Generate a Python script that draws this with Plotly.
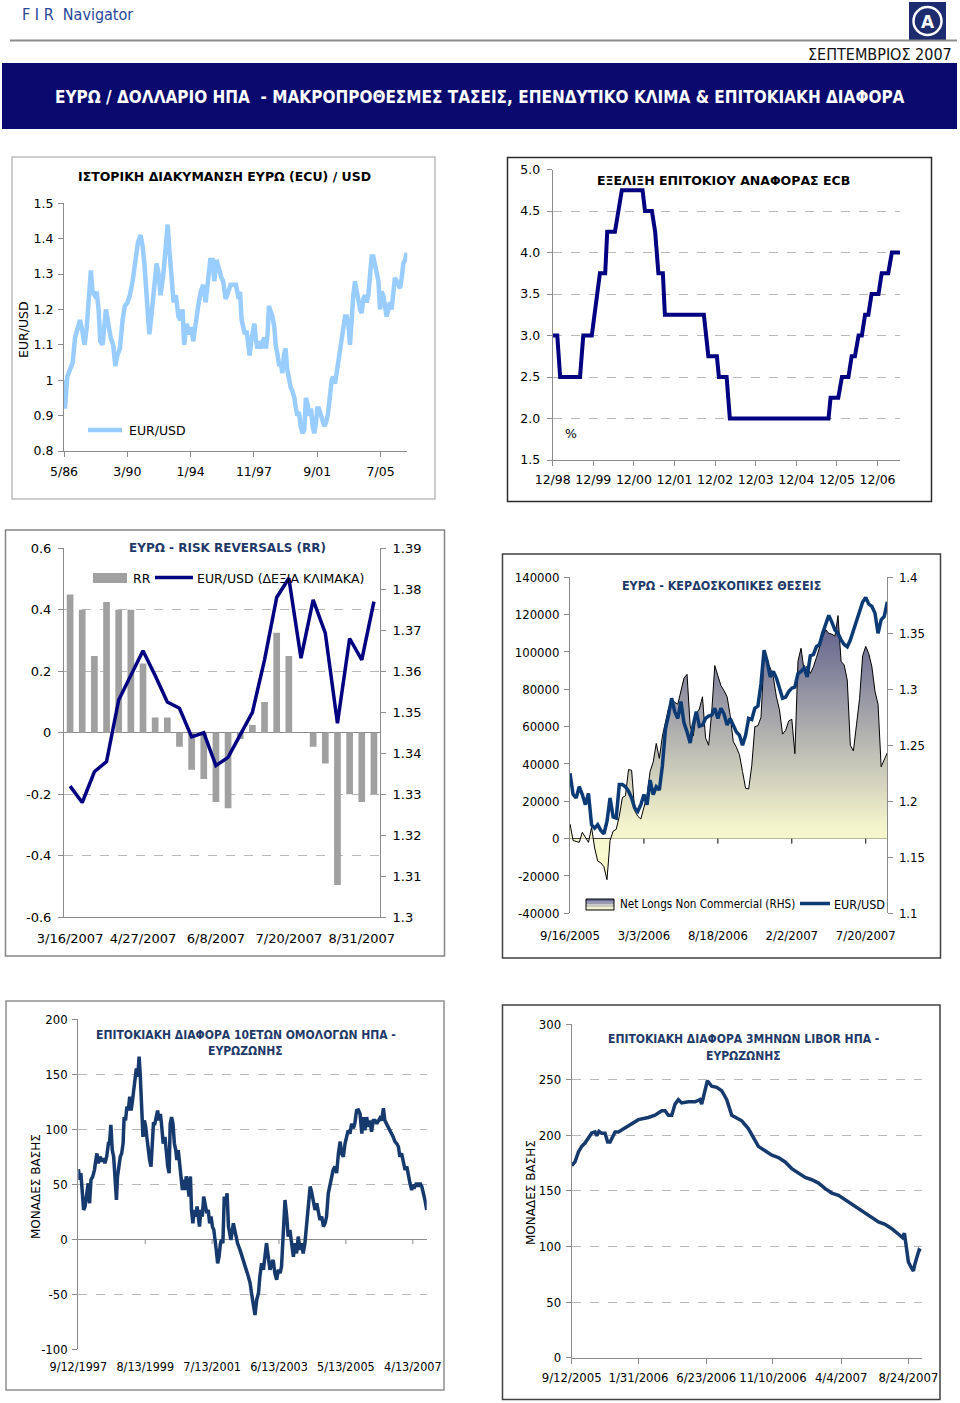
import plotly.graph_objects as go
import pandas as pd

# ======================= DATA =======================
# Panel 1: historical EUR(ECU)/USD  (x in decimal years)
hist_year = [
    1986.33, 1986.39, 1986.53, 1986.70, 1986.86, 1987.00, 1987.14, 1987.30, 1987.44, 1987.58,
    1987.71, 1987.82, 1987.96, 1988.06, 1988.19, 1988.31, 1988.43, 1988.53, 1988.67, 1988.87,
    1989.01, 1989.16, 1989.31, 1989.44, 1989.56, 1989.72, 1989.88, 1990.02, 1990.18, 1990.32,
    1990.49, 1990.65, 1990.81, 1990.97, 1991.09, 1991.20, 1991.30, 1991.40, 1991.50, 1991.62,
    1991.78, 1991.94, 1992.06, 1992.18, 1992.35, 1992.48, 1992.61, 1992.71, 1992.83, 1992.97,
    1993.11, 1993.26, 1993.39, 1993.51, 1993.61, 1993.76, 1993.90, 1994.04, 1994.16, 1994.32,
    1994.46, 1994.61, 1994.76, 1994.91, 1995.05, 1995.19, 1995.33, 1995.43, 1995.57, 1995.71,
    1995.86, 1995.97, 1996.12, 1996.28, 1996.42, 1996.58, 1996.74, 1996.91,
    1996.99, 1997.09, 1997.19, 1997.29, 1997.39, 1997.49, 1997.57, 1997.70, 1997.80, 1997.86,
    1997.94, 1998.04, 1998.14, 1998.26, 1998.36, 1998.46, 1998.56, 1998.66, 1998.74, 1998.83,
    1998.95, 1999.07, 1999.15, 1999.27, 1999.37, 1999.47, 1999.55, 1999.65, 1999.75, 1999.85,
    1999.96, 2000.06, 2000.16, 2000.28, 2000.38, 2000.46, 2000.56, 2000.66, 2000.78, 2000.88,
    2000.98, 2001.09, 2001.17, 2001.29, 2001.39, 2001.49, 2001.59, 2001.67, 2001.77, 2001.89,
    2001.99, 2002.09, 2002.20, 2002.30, 2002.40, 2002.54, 2002.64, 2002.74, 2002.84, 2002.94,
    2003.04, 2003.14, 2003.25, 2003.35, 2003.45, 2003.55, 2003.65, 2003.75, 2003.85, 2003.95,
    2004.05, 2004.15, 2004.26, 2004.36, 2004.46, 2004.56, 2004.66, 2004.76, 2004.86, 2004.96,
    2005.06, 2005.16, 2005.26, 2005.37, 2005.47, 2005.57, 2005.67, 2005.77, 2005.87, 2005.97,
    2006.07, 2006.17, 2006.27, 2006.37, 2006.47, 2006.58, 2006.68, 2006.78, 2006.88, 2006.98,
    2007.08]
hist_eurusd = [
    1.00, 0.92, 1.01, 1.03, 1.05, 1.12, 1.15, 1.17, 1.14, 1.10,
    1.15, 1.22, 1.31, 1.25, 1.24, 1.25, 1.20, 1.11, 1.10, 1.20,
    1.16, 1.12, 1.10, 1.04, 1.07, 1.09, 1.17, 1.21, 1.22, 1.24,
    1.28, 1.34, 1.39, 1.41, 1.38, 1.33, 1.26, 1.19, 1.13, 1.18,
    1.25, 1.33, 1.30, 1.24, 1.30, 1.37, 1.44, 1.37, 1.28, 1.22,
    1.24, 1.18, 1.17, 1.20, 1.10, 1.16, 1.13, 1.15, 1.11, 1.17,
    1.21, 1.25, 1.27, 1.22, 1.27, 1.34, 1.34, 1.28, 1.34, 1.31,
    1.29, 1.28, 1.23, 1.25, 1.27, 1.27, 1.27, 1.23,
    1.25, 1.17, 1.15, 1.13, 1.14, 1.08, 1.07, 1.12, 1.15, 1.16,
    1.12, 1.09, 1.11, 1.09, 1.11, 1.12, 1.09, 1.13, 1.21, 1.20,
    1.18, 1.15, 1.10, 1.07, 1.04, 1.05, 1.02, 1.07, 1.09, 1.03,
    1.00, 0.98, 0.97, 0.95, 0.92, 0.90, 0.91, 0.87, 0.85, 0.86,
    0.95, 0.93, 0.90, 0.92, 0.87, 0.85, 0.88, 0.92, 0.92, 0.90,
    0.88, 0.87, 0.88, 0.90, 0.94, 1.00, 1.01, 0.99, 1.02, 1.05,
    1.08, 1.10, 1.13, 1.18, 1.18, 1.16, 1.10, 1.18, 1.24, 1.28,
    1.25, 1.22, 1.20, 1.19, 1.23, 1.24, 1.22, 1.24, 1.30, 1.35,
    1.35, 1.33, 1.30, 1.28, 1.20, 1.25, 1.24, 1.21, 1.18, 1.20,
    1.22, 1.20, 1.24, 1.29, 1.28, 1.27, 1.26, 1.29, 1.33, 1.34,
    1.36]
hist_tick_year = [1986.333, 1990.167, 1994.0, 1997.833, 2001.667, 2005.5]
hist_tick_text = ["5/86", "3/90", "1/94", "11/97", "9/01", "7/05"]
hist_y_ticks = [0.8, 0.9, 1.0, 1.1, 1.2, 1.3, 1.4, 1.5]
hist_y_text = ["0.8", "0.9", "1", "1.1", "1.2", "1.3", "1.4", "1.5"]

# Panel 2: ECB refi rate
ecb_year = [1998.92, 1999.03, 1999.10, 1999.59, 1999.67, 1999.88, 2000.08, 2000.21, 2000.26, 2000.45,
            2000.62, 2001.13, 2001.19, 2001.36, 2001.44, 2001.52, 2001.63, 2001.68, 2002.64, 2002.75,
            2002.96, 2003.01, 2003.20, 2003.28, 2005.71, 2005.76, 2005.95, 2006.04, 2006.20, 2006.28,
            2006.36, 2006.45, 2006.53, 2006.61, 2006.69, 2006.77, 2006.94, 2007.02, 2007.18, 2007.27,
            2007.47]
ecb_rate = [3.0, 3.0, 2.5, 2.5, 3.0, 3.0, 3.75, 3.75, 4.25, 4.25,
            4.75, 4.75, 4.5, 4.5, 4.25, 3.75, 3.75, 3.25, 3.25, 2.75,
            2.75, 2.5, 2.5, 2.0, 2.0, 2.25, 2.25, 2.5, 2.5, 2.75,
            2.75, 3.0, 3.0, 3.25, 3.25, 3.5, 3.5, 3.75, 3.75, 4.0,
            4.0]
ecb_tick_year = [1998.917, 1999.917, 2000.917, 2001.917, 2002.917, 2003.917, 2004.917, 2005.917, 2006.917]
ecb_tick_text = ["12/98", "12/99", "12/00", "12/01", "12/02", "12/03", "12/04", "12/05", "12/06"]
ecb_y_ticks = [1.5, 2.0, 2.5, 3.0, 3.5, 4.0, 4.5, 5.0]

# Panel 3: risk reversals
rr_dates = ["3/16/2007", "3/23/2007", "3/30/2007", "4/6/2007", "4/13/2007", "4/20/2007", "4/27/2007",
            "5/4/2007", "5/11/2007", "5/18/2007", "5/25/2007", "6/1/2007", "6/8/2007", "6/15/2007",
            "6/22/2007", "6/29/2007", "7/6/2007", "7/13/2007", "7/20/2007", "7/27/2007", "8/3/2007",
            "8/10/2007", "8/17/2007", "8/24/2007", "8/31/2007", "9/7/2007"]
rr_values = [0.45, 0.40, 0.25, 0.425, 0.40, 0.40, 0.225, 0.05, 0.05, -0.045, -0.12, -0.15, -0.225,
             -0.245, -0.02, 0.025, 0.10, 0.325, 0.25, 0.0, -0.045, -0.10, -0.495, -0.20, -0.225, -0.20]
rr_eurusd = [1.332, 1.328, 1.3355, 1.338, 1.353, 1.359, 1.365, 1.359, 1.3525, 1.351, 1.344, 1.345,
             1.337, 1.339, 1.3445, 1.350, 1.3628, 1.378, 1.3827, 1.3632, 1.3774, 1.3693, 1.3473,
             1.368, 1.3628, 1.377]
rr_tick_dates = ["3/16/2007", "4/27/2007", "6/8/2007", "7/20/2007", "8/31/2007"]
rr_left_ticks = [-0.6, -0.4, -0.2, 0, 0.2, 0.4, 0.6]
rr_left_text = ["-0.6", "-0.4", "-0.2", "0", "0.2", "0.4", "0.6"]
rr_right_ticks = [1.30, 1.31, 1.32, 1.33, 1.34, 1.35, 1.36, 1.37, 1.38, 1.39]
rr_right_text = ["1.3", "1.31", "1.32", "1.33", "1.34", "1.35", "1.36", "1.37", "1.38", "1.39"]

# Panel 4: speculative positions (weekly from 9/16/2005)
cot_start = "2005-09-16"
net_longs = [
    7900, -1000, -1500, -2000, 3400, 700, -2000, 6000, -5000, -12000,
    -13000, -15000, -22000, -1000, 4000, 5000, 12000, 22000, 23000, 37000,
    36600, 15000, 12000, 10500, 17000, 23000, 36000, 41000, 51000, 43000,
    55000, 63000, 70000, 74800, 73000, 72000, 79000, 86000, 88000, 60500,
    55000, 67000, 69500, 76000, 54000, 50000, 67700, 92700, 87300, 82000,
    79300, 76000, 66000, 52000, 49000, 45000, 36000, 27000, 26600, 39000,
    60000, 60500, 65000, 98000, 95000, 91500, 86500, 76000, 69000, 56000,
    58000, 63000, 64000, 45500, 95000, 102000, 90000, 92500, 88500, 92000,
    97000, 102500, 108000, 112000, 110000, 109500, 108500, 119500, 95000, 93000,
    85000, 50000, 47000, 61000, 75000, 98000, 103000, 99000, 92000, 79000,
    72000, 38500, 42000, 46000]
cot_eurusd = [
    1.225, 1.206, 1.203, 1.213, 1.206, 1.197, 1.207, 1.179, 1.176, 1.179,
    1.174, 1.171, 1.182, 1.203, 1.186, 1.185, 1.215, 1.215, 1.213, 1.209,
    1.203, 1.194, 1.191, 1.197, 1.206, 1.197, 1.219, 1.206, 1.213, 1.210,
    1.232, 1.265, 1.277, 1.292, 1.280, 1.274, 1.289, 1.270, 1.262, 1.252,
    1.268, 1.280, 1.267, 1.268, 1.274, 1.276, 1.277, 1.283, 1.274, 1.283,
    1.278, 1.268, 1.274, 1.268, 1.262, 1.259, 1.250, 1.259, 1.274, 1.273,
    1.283, 1.285, 1.305, 1.335, 1.325, 1.311, 1.316, 1.310, 1.300, 1.292,
    1.293, 1.298, 1.301, 1.302, 1.314, 1.316, 1.319, 1.311, 1.330, 1.331,
    1.338, 1.340, 1.350, 1.358, 1.366, 1.360, 1.353, 1.350, 1.344, 1.340,
    1.338, 1.344, 1.352, 1.360, 1.370, 1.378, 1.382, 1.376, 1.374, 1.368,
    1.350, 1.362, 1.365, 1.378]
cot_tick_dates = ["2005-09-16", "2006-03-03", "2006-08-18", "2007-02-02", "2007-07-20"]
cot_tick_text = ["9/16/2005", "3/3/2006", "8/18/2006", "2/2/2007", "7/20/2007"]
cot_left_ticks = [-40000, -20000, 0, 20000, 40000, 60000, 80000, 100000, 120000, 140000]
cot_right_ticks = [1.10, 1.15, 1.20, 1.25, 1.30, 1.35, 1.40]
cot_right_text = ["1.1", "1.15", "1.2", "1.25", "1.3", "1.35", "1.4"]

# Panel 5: 10y US - Euro area spread (bp)
spread10_year = [
    1997.70, 1997.74, 1997.77, 1997.81, 1997.85, 1997.89, 1997.94, 1997.98, 1998.02, 1998.06,
    1998.11, 1998.16, 1998.20, 1998.23, 1998.27, 1998.32, 1998.37, 1998.41, 1998.46, 1998.51,
    1998.56, 1998.59, 1998.63, 1998.67, 1998.71, 1998.75, 1998.79, 1998.82, 1998.86, 1998.90,
    1998.94, 1998.98, 1999.01, 1999.05, 1999.09, 1999.13, 1999.17, 1999.21, 1999.24, 1999.28,
    1999.32, 1999.36, 1999.40, 1999.44, 1999.47, 1999.51, 1999.55, 1999.59, 1999.63, 1999.66,
    1999.70, 1999.74, 1999.78, 1999.82, 1999.85, 1999.89, 1999.93, 1999.97, 2000.01, 2000.05,
    2000.08, 2000.13, 2000.18, 2000.22, 2000.26, 2000.30, 2000.33, 2000.37, 2000.41, 2000.45,
    2000.49, 2000.52, 2000.56, 2000.60, 2000.64, 2000.68, 2000.72, 2000.75, 2000.79, 2000.83,
    2000.87, 2000.91, 2000.94, 2000.98, 2001.02, 2001.06, 2001.10, 2001.14, 2001.17, 2001.21,
    2001.25, 2001.29, 2001.33, 2001.38, 2001.42, 2001.46, 2001.50, 2001.54, 2001.58, 2001.61,
    2001.65, 2001.69, 2001.73, 2001.77, 2001.80, 2001.84, 2001.88, 2001.92, 2001.96,
    2002.00, 2002.07, 2002.14, 2002.21, 2002.26, 2002.33, 2002.40, 2002.45, 2002.51, 2002.57,
    2002.62, 2002.66, 2002.71, 2002.76, 2002.81, 2002.86, 2002.90, 2002.95, 2003.00, 2003.05,
    2003.09, 2003.14, 2003.19, 2003.24, 2003.28, 2003.33, 2003.38, 2003.43, 2003.48, 2003.52,
    2003.57, 2003.62, 2003.67, 2003.71, 2003.76, 2003.81, 2003.86, 2003.91, 2003.95, 2004.00,
    2004.05, 2004.10, 2004.14, 2004.19, 2004.24, 2004.29, 2004.34, 2004.38, 2004.43, 2004.48,
    2004.53, 2004.57, 2004.62, 2004.67, 2004.72, 2004.77, 2004.81, 2004.86, 2004.91, 2004.96,
    2005.00, 2005.05, 2005.10, 2005.15, 2005.20, 2005.24, 2005.29, 2005.34, 2005.39, 2005.43,
    2005.48, 2005.53, 2005.58, 2005.62, 2005.67, 2005.72, 2005.77, 2005.82, 2005.86, 2005.91,
    2005.96, 2006.01, 2006.05, 2006.10, 2006.15, 2006.20, 2006.25, 2006.29, 2006.34, 2006.39,
    2006.44, 2006.48, 2006.53, 2006.58, 2006.63, 2006.68, 2006.72, 2006.77, 2006.82, 2006.87,
    2006.91, 2006.96, 2007.01, 2007.06, 2007.11, 2007.15, 2007.20, 2007.25, 2007.30, 2007.34,
    2007.39, 2007.44, 2007.49, 2007.54, 2007.58, 2007.63, 2007.68]
spread10 = [
    63.5, 54, 60, 45, 26.5, 29.6, 44.7, 50.8, 32.6, 53.8,
    56.8, 63, 72, 78, 69, 75, 70.5, 73.5, 69, 75,
    87, 87, 104, 81, 75, 50.8, 35.6, 56.8, 69, 75,
    78, 87, 111, 108, 120.5, 117, 129.6, 117, 123.5, 135.6,
    147.8, 155.3, 147.8, 166, 150.8, 117, 93, 108, 102, 93,
    81, 72, 66, 87, 105, 105, 111, 117, 108, 114,
    105, 87, 93, 78, 66, 60, 105, 111, 105, 87,
    81, 72, 81, 69, 57, 44.7, 54, 44.7, 57, 51,
    38.7, 57, 26.5, 14.4, 26.5, 20.5, 29.6, 20.5, 11.4, 26.5,
    20.5, 38.7, 32.6, 23.5, 26.5, 14.4, 20.5, 11.4, 8.4, 2.3,
    -9.8, -22, -16, -3.8, -0.7, -3.8, 38.7, 32.6, 41.7,
    11.4, -0.7, 14.4, 2.3, -3.8, -9.8, -16, -22, -28, -34,
    -40, -49, -58, -69, -55, -49, -34, -22, -28, -13,
    -3.8, -16, -28, -22, -19, -31, -37, -28, -31, -25,
    11.4, 35.6, 20.5, 2.3, 8.4, -3.8, -16, -3.8, -13, 2.3,
    -9.8, -3.8, -13, -3.8, 14.4, 32.6, 47.8, 43.2, 35.6, 26.5,
    32.6, 23.5, 17.4, 20.5, 11.4, 14.4, 20.5, 41.7, 50.8, 56.8,
    63, 66, 60, 78, 88.7, 78, 75, 87, 93, 99,
    96, 105, 100.8, 105, 117, 117.5, 114, 96, 111, 99,
    111, 102, 108, 97.8, 108, 108, 105, 108, 110, 108,
    119, 108, 105, 100.8, 99, 96, 93, 88.7, 87, 84,
    75, 78, 69, 63, 66, 57, 51, 44.7, 49.3, 47.8,
    51, 47.8, 51, 47.8, 43.2, 35.6, 26.5]
spread10_tick_year = [1997.697, 1999.616, 2001.532, 2003.449, 2005.364, 2007.282]
spread10_tick_text = ["9/12/1997", "8/13/1999", "7/13/2001", "6/13/2003", "5/13/2005", "4/13/2007"]
spread10_y_ticks = [-100, -50, 0, 50, 100, 150, 200]

# Panel 6: 3m LIBOR US - Euro area spread (bp)
libor_year = [
    2005.696, 2005.715, 2005.735, 2005.754, 2005.773, 2005.792, 2005.812, 2005.831, 2005.841, 2005.854,
    2005.870, 2005.889, 2005.904, 2005.918, 2005.931, 2005.947, 2005.966, 2005.985, 2006.005, 2006.043,
    2006.082, 2006.139, 2006.178, 2006.217, 2006.236, 2006.255, 2006.275, 2006.294, 2006.313, 2006.332,
    2006.371, 2006.410, 2006.438, 2006.448, 2006.467, 2006.481, 2006.506, 2006.535, 2006.564, 2006.593,
    2006.622, 2006.660, 2006.680, 2006.718, 2006.747, 2006.776, 2006.815, 2006.854, 2006.892, 2006.931,
    2006.969, 2007.008, 2007.047, 2007.085, 2007.124, 2007.163, 2007.201, 2007.240, 2007.279, 2007.316,
    2007.355, 2007.393, 2007.432, 2007.471, 2007.509, 2007.548, 2007.587, 2007.610, 2007.621, 2007.631,
    2007.644, 2007.664, 2007.673, 2007.683, 2007.698, 2007.706, 2007.717]
libor_spread = [
    172.6, 176, 185, 190, 193, 197, 202, 203, 199.6, 203.5,
    201.7, 201.7, 194, 194, 198.7, 203, 203, 204.7, 207, 210,
    214, 216, 218, 222, 222, 218, 218, 228, 232, 229,
    230, 230, 232, 228, 240, 249, 244, 243, 240, 232,
    218, 215, 213, 206, 198, 190, 186, 182, 180, 176,
    170, 166, 162, 160, 157, 152, 148, 146, 142, 138,
    134, 130, 126, 122, 120, 116, 111, 108, 112, 100,
    86, 80, 78, 85, 95, 97, 96]
libor_tick_year = [2005.696, 2006.082, 2006.474, 2006.860, 2007.255, 2007.644]
libor_tick_text = ["9/12/2005", "1/31/2006", "6/23/2006", "11/10/2006", "4/4/2007", "8/24/2007"]
libor_y_ticks = [0, 50, 100, 150, 200, 250, 300]

# ======================= LAYOUT HELPERS =======================
W, H = 960, 1403
def fx(x): return x / W
def fy(y): return 1 - y / H

FONT_V = "DejaVu Sans, Verdana, sans-serif"
FONT_C = "DejaVu Sans Condensed, Liberation Sans Narrow, Liberation Sans, sans-serif"
AX = "#8C8C8C"
GRID = "#B8B8B8"
NAVY = "#000080"
TITLE_BLUE = "#1F3A68"

tf_p1 = dict(family=FONT_V, size=12.5, color="black")
tf_p3 = dict(family=FONT_V, size=13, color="black")
tf_c = dict(family=FONT_C, size=13, color="black")

cot_dates = pd.date_range(cot_start, periods=len(net_longs), freq="7D")

fig = go.Figure()

# Panel 1
fig.add_trace(go.Scatter(x=hist_year, y=hist_eurusd, mode="lines",
                         line=dict(color="#99CCFF", width=4.5), xaxis="x", yaxis="y"))
# Panel 2
fig.add_trace(go.Scatter(x=ecb_year, y=ecb_rate, mode="lines",
                         line=dict(color=NAVY, width=4), xaxis="x2", yaxis="y2"))
# Panel 3
fig.add_trace(go.Bar(x=rr_dates, y=rr_values, marker=dict(color="#A0A0A0", line=dict(width=0)),
                     width=0.55, xaxis="x3", yaxis="y3"))
fig.add_trace(go.Scatter(x=rr_dates, y=rr_eurusd, mode="lines",
                         line=dict(color=NAVY, width=3.5), xaxis="x3", yaxis="y7"))
# Panel 4
fig.add_trace(go.Scatter(x=cot_dates, y=net_longs, mode="lines", fill="tozeroy",
                         fillgradient=dict(type="vertical",
                                           colorscale=[[0, "#FFFFD2"], [0.2, "#F4F4CC"], [1, "#5C5C8C"]]),
                         line=dict(color="black", width=1), xaxis="x4", yaxis="y4"))
fig.add_trace(go.Scatter(x=cot_dates, y=cot_eurusd, mode="lines",
                         line=dict(color="#0B3A75", width=3.5), xaxis="x4", yaxis="y8"))
# Panel 5
fig.add_trace(go.Scatter(x=spread10_year, y=spread10, mode="lines",
                         line=dict(color="#163A6E", width=3.5), xaxis="x5", yaxis="y5"))
# Panel 6
fig.add_trace(go.Scatter(x=libor_year, y=libor_spread, mode="lines",
                         line=dict(color="#163A6E", width=3.5), xaxis="x6", yaxis="y6"))


def axis(**kw):
    d = dict(showgrid=False, zeroline=False, showline=True, linecolor=AX, linewidth=1,
             ticks="outside", ticklen=5, tickcolor=AX, tickwidth=1, fixedrange=True,
             tickmode="array", automargin=False, tickangle=0)
    d.update(kw)
    return d

layout = dict(
    width=W, height=H, autosize=False, margin=dict(l=0, r=0, t=0, b=0, pad=0, autoexpand=False),
    paper_bgcolor="white", plot_bgcolor="rgba(0,0,0,0)", showlegend=False,
    font=dict(family=FONT_V, size=12, color="black"),
    # ---- Panel 1
    xaxis=axis(domain=[fx(64), fx(407.3)], anchor="y", range=[1986.333, 2007.12],
               tickvals=hist_tick_year, ticktext=hist_tick_text, tickfont=tf_p1, ticklabelstandoff=4),
    yaxis=axis(domain=[fy(451), fy(203.3)], anchor="x", range=[0.8, 1.5],
               tickvals=hist_y_ticks, ticktext=hist_y_text, tickfont=tf_p1, ticklabelstandoff=2),
    # ---- Panel 2
    xaxis2=axis(domain=[fx(552.7), fx(900)], anchor="y2", range=[1998.917, 2007.47],
                tickvals=ecb_tick_year, ticktext=ecb_tick_text, tickfont=tf_p1, ticklabelstandoff=3),
    yaxis2=axis(domain=[fy(460), fy(169.5)], anchor="x2", range=[1.5, 5.0],
                tickvals=ecb_y_ticks, ticktext=["%.1f" % v for v in ecb_y_ticks], tickfont=tf_p1,
                showgrid=True, gridcolor=GRID, griddash="dash", gridwidth=1, ticklabelstandoff=4),
    # ---- Panel 3
    xaxis3=axis(domain=[fx(64), fx(380)], anchor="y3", type="category", range=[-0.5, 25.5],
                tickvals=rr_tick_dates, ticktext=rr_tick_dates, tickfont=tf_p3,
                tickcolor="rgba(0,0,0,0)", ticklen=9),
    yaxis3=axis(domain=[fy(917.3), fy(548.3)], anchor="x3", range=[-0.6, 0.6],
                tickvals=rr_left_ticks, ticktext=rr_left_text, tickfont=tf_p3,
                showgrid=True, gridcolor=GRID, griddash="dash",
                zeroline=True, zerolinecolor=AX, zerolinewidth=1, ticklabelstandoff=4),
    yaxis7=axis(overlaying="y3", side="right", anchor="x3", range=[1.30, 1.39],
                tickvals=rr_right_ticks, ticktext=rr_right_text, tickfont=tf_p3, ticklabelstandoff=4),
    # ---- Panel 4
    xaxis4=axis(domain=[fx(570), fx(887.3)], anchor="y4", type="date",
                range=[cot_dates[0], cot_dates[-1]], showline=False,
                tickvals=cot_tick_dates, ticktext=cot_tick_text, tickfont=tf_c,
                tickcolor="rgba(0,0,0,0)", ticklen=10),
    yaxis4=axis(domain=[fy(913.3), fy(577.3)], anchor="x4", range=[-40000, 140000],
                tickvals=cot_left_ticks, ticktext=[str(v) for v in cot_left_ticks], tickfont=tf_c,
                zeroline=True, zerolinecolor="black", zerolinewidth=1, ticklabelstandoff=2),
    yaxis8=axis(overlaying="y4", side="right", anchor="x4", range=[1.10, 1.40],
                tickvals=cot_right_ticks, ticktext=cot_right_text, tickfont=tf_c, ticklabelstandoff=3),
    # ---- Panel 5
    xaxis5=axis(domain=[fx(78.3), fx(426.7)], anchor="y5", range=[1997.697, 2007.68],
                showline=False, tickvals=spread10_tick_year, ticktext=spread10_tick_text,
                tickfont=dict(family=FONT_C, size=12.5, color="black"),
                tickcolor="rgba(0,0,0,0)", ticklen=6),
    yaxis5=axis(domain=[fy(1349), fy(1019.3)], anchor="x5", range=[-100, 200],
                tickvals=spread10_y_ticks, ticktext=[str(v) for v in spread10_y_ticks], tickfont=tf_c,
                showgrid=True, gridcolor=GRID, griddash="dash",
                zeroline=True, zerolinecolor=AX, zerolinewidth=1, ticklabelstandoff=2),
    # ---- Panel 6
    xaxis6=axis(domain=[fx(571.7), fx(921.7)], anchor="y6", range=[2005.696, 2007.721],
                tickvals=libor_tick_year, ticktext=libor_tick_text, tickfont=tf_c, ticklabelstandoff=3),
    yaxis6=axis(domain=[fy(1357.7), fy(1024)], anchor="x6", range=[0, 300],
                tickvals=libor_y_ticks, ticktext=[str(v) for v in libor_y_ticks], tickfont=tf_c,
                showgrid=True, gridcolor=GRID, griddash="dash", ticklabelstandoff=2),
)

shapes = []
def rect(x0, y0, x1, y1, line="#808080", lw=1.5, fill=None):
    shapes.append(dict(type="rect", xref="paper", yref="paper", x0=fx(x0), x1=fx(x1),
                       y0=fy(y1), y1=fy(y0), line=dict(color=line, width=lw),
                       fillcolor=fill if fill else "rgba(0,0,0,0)", layer="below"))
def hline(x0, x1, y, color, width):
    shapes.append(dict(type="line", xref="paper", yref="paper", x0=fx(x0), x1=fx(x1),
                       y0=fy(y), y1=fy(y), line=dict(color=color, width=width)))

# header
hline(10, 957, 40.5, "#8C8C8C", 2)
rect(2, 63, 957, 129, line="#0A0A6E", lw=0, fill="#0A0A6E")
rect(909, 2, 946, 40, line="#1C2C6E", lw=0, fill="#1C2C6E")
shapes.append(dict(type="circle", xref="paper", yref="paper", x0=fx(913.5), x1=fx(941.5),
                   y0=fy(35), y1=fy(7), line=dict(color="white", width=2.5), fillcolor="#1C2C6E"))

# panel frames
rect(12, 157, 435, 499, line="#BDBDBD", lw=1.5)
rect(507.5, 157.5, 931.5, 501.5, line="#2A2A2A", lw=1.5)
rect(5.5, 530, 444.5, 956, line="#858585", lw=1.5)
rect(502.5, 554, 940.5, 958, line="#404040", lw=1.5)
rect(6, 1001, 444, 1390, line="#909090", lw=1.5)
rect(502.5, 1005, 940, 1399.5, line="#404040", lw=1.5)

# legends
hline(88, 122, 430, "#99CCFF", 4.5)
rect(93, 573, 127, 583, line="#A0A0A0", lw=0, fill="#A0A0A0")
hline(155, 193, 577.5, NAVY, 3.5)
grad = ["#6A6A96", "#9A9AAE", "#C8C8C0", "#F0F0CE"]
for i, c in enumerate(grad):
    rect(586, 899 + i * 2.75, 614, 899 + (i + 1) * 2.75, line=c, lw=0, fill=c)
rect(586, 899, 614, 910, line="black", lw=1)
hline(800, 830, 903.5, "#0B3A75", 3.5)

# small ticks sitting on zero lines
for t in cot_tick_dates[1:]:
    shapes.append(dict(type="line", xref="x4", yref="y4", x0=t, x1=t, ysizemode="pixel",
                       yanchor=0, y0=0, y1=-5, line=dict(color="black", width=1)))
for t in spread10_tick_year[1:]:
    shapes.append(dict(type="line", xref="x5", yref="y5", x0=t, x1=t, ysizemode="pixel",
                       yanchor=0, y0=0, y1=-5, line=dict(color=AX, width=1)))

layout["shapes"] = shapes

ann = []
def text(x, y, s, size=12, color="black", family=FONT_V, anchor="left", bold=False, angle=0):
    if bold:
        s = "<b>" + s + "</b>"
    ann.append(dict(xref="paper", yref="paper", x=fx(x), y=fy(y), text=s, showarrow=False,
                    xanchor=anchor, yanchor="middle", textangle=angle,
                    font=dict(family=family, size=size, color=color)))

text(20, 14, "F I R  Navigator", size=16, color="#27479A", family=FONT_C)
text(954, 54, "ΣΕΠΤΕΜΒΡΙΟΣ 2007", size=16, color="#111111", family=FONT_C, anchor="right")
text(480, 97, "ΕΥΡΩ / ΔΟΛΛΑΡΙΟ ΗΠΑ  - ΜΑΚΡΟΠΡΟΘΕΣΜΕΣ ΤΑΣΕΙΣ, ΕΠΕΝΔΥΤΙΚΟ ΚΛΙΜΑ & ΕΠΙΤΟΚΙΑΚΗ ΔΙΑΦΟΡΑ",
     size=17, color="white", family=FONT_C, anchor="center", bold=True)
text(927.5, 21.5, "A", size=17, color="white", family=FONT_V, anchor="center", bold=True)

# panel 1
text(224, 176, "ΙΣΤΟΡΙΚΗ ΔΙΑΚΥΜΑΝΣΗ ΕΥΡΩ (ECU) / USD", size=12.5, anchor="center", bold=True)
text(23, 330, "EUR/USD", size=12.5, anchor="center", angle=-90)
text(127, 430, "EUR/USD", size=12.5)
# panel 2
text(723, 180, "ΕΞΕΛΙΞΗ ΕΠΙΤΟΚΙΟΥ ΑΝΑΦΟΡΑΣ ECB", size=12.5, anchor="center", bold=True)
text(563, 433, "%", size=12.5)
# panel 3
text(227, 548, "ΕΥΡΩ - RISK REVERSALS (RR)", size=12, color=TITLE_BLUE, anchor="center", bold=True)
text(131, 578, "RR", size=12.5)
text(195, 578, "EUR/USD (ΔΕΞΙΑ ΚΛΙΜΑΚΑ)", size=12.5)
# panel 4
text(721, 585, "ΕΥΡΩ - ΚΕΡΔΟΣΚΟΠΙΚΕΣ ΘΕΣΕΙΣ", size=12.4, color=TITLE_BLUE, family=FONT_C,
     anchor="center", bold=True)
text(618, 904, "Net Longs Non Commercial (RHS)", size=11.6, family=FONT_C)
text(832, 904, "EUR/USD", size=12.5, family=FONT_C)
# panel 5
text(246, 1035, "ΕΠΙΤΟΚΙΑΚΗ ΔΙΑΦΟΡΑ 10ΕΤΩΝ ΟΜΟΛΟΓΩΝ ΗΠΑ -", size=12, color=TITLE_BLUE, family=FONT_C,
     anchor="center", bold=True)
text(246, 1051, "ΕΥΡΩΖΩΝΗΣ", size=12, color=TITLE_BLUE, family=FONT_C, anchor="center", bold=True)
text(36, 1187, "ΜΟΝΑΔΕΣ ΒΑΣΗΣ", size=12, family=FONT_V, anchor="center", angle=-90)
# panel 6
text(531, 1193, "ΜΟΝΑΔΕΣ ΒΑΣΗΣ", size=12, family=FONT_V, anchor="center", angle=-90)
text(743, 1039, "ΕΠΙΤΟΚΙΑΚΗ ΔΙΑΦΟΡΑ 3ΜΗΝΩΝ LIBOR ΗΠΑ -", size=12, color=TITLE_BLUE, family=FONT_C,
     anchor="center", bold=True)
text(743, 1056, "ΕΥΡΩΖΩΝΗΣ", size=12, color=TITLE_BLUE, family=FONT_C, anchor="center", bold=True)

layout["annotations"] = ann
fig.update_layout(**layout)
fig.write_html("out.html", config={"displayModeBar": False},
               post_script="document.body.style.margin='0px';")
